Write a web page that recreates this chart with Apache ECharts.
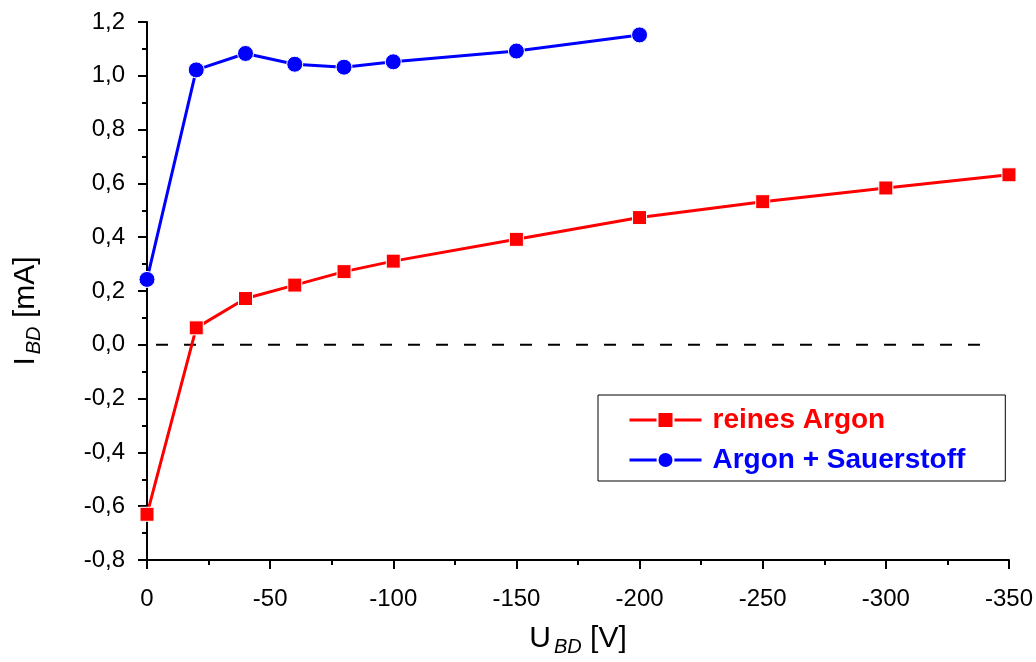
<!DOCTYPE html>
<html>
<head>
<meta charset="utf-8">
<script src="https://cdn.jsdelivr.net/npm/echarts@6/dist/echarts.min.js"></script>
<style>
html,body{margin:0;padding:0;background:#fff;}
#chart{width:1036px;height:662px;}
</style>
</head>
<body>
<div id="chart"></div>
<script>
var argonX = [0, -20, -40, -60, -80, -100, -150, -200, -250, -300, -350];
var argonY = [-0.63, 0.063, 0.172, 0.222, 0.272, 0.311, 0.392, 0.473, 0.532, 0.583, 0.632];
var oxyX = [0, -20, -40, -60, -80, -100, -150, -200];
var oxyY = [0.243, 1.022, 1.083, 1.043, 1.032, 1.052, 1.092, 1.152];
var zeroLineX = [0, -340];
var zeroLineY = [0, 0];
var seriesNames = ['reines Argon', 'Argon + Sauerstoff'];

function pairs(xs, ys) { return xs.map(function (x, i) { return [x, ys[i]]; }); }

var font = 'Liberation Sans, Arial, sans-serif';
var chart = echarts.init(document.getElementById('chart'), null, {renderer: 'canvas'});
chart.setOption({
  animation: false,
  backgroundColor: '#fff',
  grid: {left: 146, right: 27, top: 22, bottom: 100, containLabel: false},
  legend: {
    left: 598, top: 395,
    orient: 'vertical',
    padding: [11, 40, 7, 30],
    itemGap: 12,
    itemWidth: 72, itemHeight: 20,
    borderColor: '#000', borderWidth: 1,
    lineStyle: {width: 3},
    textStyle: {fontFamily: font, fontSize: 28, fontWeight: 'bold', padding: [0, 0, 0, 6]},
    data: [
      {name: seriesNames[0], textStyle: {color: '#ff0000'}},
      {name: seriesNames[1], textStyle: {color: '#0000ff'}}
    ]
  },
  xAxis: {
    type: 'value', min: -350, max: 0, interval: 50, inverse: true,
    name: '{a|U}{b|BD}{a| [V]}', nameLocation: 'middle', nameGap: 62,
    nameTextStyle: {
      fontFamily: font,
      rich: {
        a: {fontFamily: font, fontSize: 30, color: '#000', lineHeight: 34},
        b: {fontFamily: font, fontSize: 20, fontStyle: 'italic', color: '#000', padding: [16, 0, 0, 3], lineHeight: 34}
      }
    },
    axisLine: {onZero: false, lineStyle: {color: '#000', width: 2}},
    axisTick: {length: 9, lineStyle: {width: 2}},
    minorTick: {show: true, splitNumber: 2, length: 5, lineStyle: {color: '#000', width: 2}},
    splitLine: {show: false},
    axisLabel: {fontFamily: font, fontSize: 24, color: '#000', margin: 27}
  },
  yAxis: {
    type: 'value', min: -0.8, max: 1.2, interval: 0.2,
    name: '{a|I}{b|BD}{a| [mA]}', nameLocation: 'middle', nameGap: 104,
    nameTextStyle: {
      fontFamily: font,
      padding: [0, 40, 0, 0],
      rich: {
        a: {fontFamily: font, fontSize: 30, color: '#000', lineHeight: 34},
        b: {fontFamily: font, fontSize: 20, fontStyle: 'italic', color: '#000', padding: [16, 0, 0, 3], lineHeight: 34}
      }
    },
    axisLine: {onZero: false, lineStyle: {color: '#000', width: 2}},
    axisTick: {length: 9, lineStyle: {width: 2}},
    minorTick: {show: true, splitNumber: 2, length: 5, lineStyle: {color: '#000', width: 2}},
    splitLine: {show: false},
    axisLabel: {
      fontFamily: font, fontSize: 24, color: '#000', margin: 22,
      formatter: function (v) { return v.toFixed(1).replace('.', ','); }
    }
  },
  series: [
    {
      name: 'zero', type: 'line', data: pairs(zeroLineX, zeroLineY),
      symbol: 'none', silent: true,
      lineStyle: {color: '#000', width: 2, type: [12, 16], dashOffset: 19}, z: 1
    },
    {
      name: seriesNames[0], type: 'line', data: pairs(argonX, argonY),
      symbol: 'rect', symbolSize: 14, color: '#ff0000',
      lineStyle: {width: 3, color: '#ff0000'},
      itemStyle: {color: '#ff0000', borderColor: '#fff', borderWidth: 1}, z: 3
    },
    {
      name: seriesNames[1], type: 'line', data: pairs(oxyX, oxyY),
      symbol: 'circle', symbolSize: 16, color: '#0000ff',
      lineStyle: {width: 3, color: '#0000ff'},
      itemStyle: {color: '#0000ff', borderColor: '#fff', borderWidth: 1}, z: 3
    }
  ]
});
</script>
</body>
</html>
